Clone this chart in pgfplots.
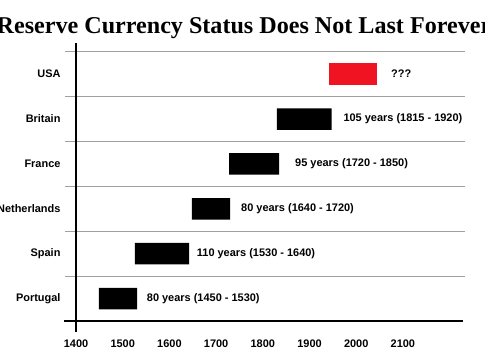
\documentclass[border=0pt]{standalone}
\usepackage{pgfplots}
\pgfplotsset{compat=1.18}
\usetikzlibrary{calc}
\usepackage{fontspec}
\setmainfont{Liberation Sans}
\newfontfamily\titlefont{Liberation Serif}
\definecolor{barred}{RGB}{240,20,35}
\definecolor{gridgray}{RGB}{160,160,160}
\tikzset{barlab/.style={anchor=west, inner sep=0pt, font=\fontsize{11}{13}\selectfont\bfseries}}

\begin{document}
\begin{tikzpicture}
\begin{axis}[
  name=ax,
  scale only axis,
  width=400bp, height=269.3bp,
  xmin=1376.4, xmax=2233,
  ymin=-0.5, ymax=5.5,
  clip=false,
  xbar stacked,
  bar width=21.5bp,
  axis line style={draw=none},
  major tick length=0pt, minor tick length=0pt,
  xtick={1400,1500,1600,1700,1800,1900,2000,2100},
  xticklabels={1400,1500,1600,1700,1800,1900,2000,2100},
  xticklabel style={font=\fontsize{11}{13}\selectfont\bfseries, yshift=-15bp},
  ytick={0,1,2,3,4,5},
  yticklabels={Portugal,Spain,Netherlands,France,Britain,USA},
  yticklabel style={font=\fontsize{11}{13}\selectfont\bfseries, xshift=-1bp},
  minor ytick={0.5,1.5,2.5,3.5,4.5,5.5},
  yminorgrids,
  minor grid style={gridgray, line width=1.1bp},
]
% start years (invisible offset)
\addplot[draw=none, fill=none] coordinates {(1449,0) (1526,1) (1648,2) (1728,3) (1830,4) (1942.5,5)};
% black spans
\addplot[draw=none, fill=black] coordinates {(82,0) (116,1) (82,2) (107,3) (117.5,4) (0,5)};
% red span (USA)
\addplot[draw=none, fill=barred] coordinates {(0,0) (0,1) (0,2) (0,3) (0,4) (103,5)};

\draw[black, line width=1.8bp] (axis cs:1374,-0.5) -- (axis cs:2229,-0.5);
\draw[black, line width=1.8bp] (axis cs:1400,-0.745) -- (axis cs:1400,5.69);

\node[barlab] at (axis cs:1551.4,0) {80 years (1450 - 1530)};
\node[barlab] at (axis cs:1658.5,1) {110 years (1530 - 1640)};
\node[barlab] at (axis cs:1753.3,2) {80 years (1640 - 1720)};
\node[barlab] at (axis cs:1869,3) {95 years (1720 - 1850)};
\node[barlab] at (axis cs:1972.4,4) {105 years (1815 - 1920)};
\node[barlab] at (axis cs:2074.5,5) {???};
\end{axis}
\node[anchor=base, inner sep=0pt, font=\titlefont\fontsize{24.2}{27}\selectfont\bfseries]
  at ($(ax.south west)+(179bp,287bp)$) {Reserve Currency Status Does Not Last Forever};
\pgfresetboundingbox
\path[use as bounding box] ($(ax.south west)+(-65bp,-32bp)$) rectangle ($(ax.south west)+(420bp,321bp)$);
\end{tikzpicture}
\end{document}
